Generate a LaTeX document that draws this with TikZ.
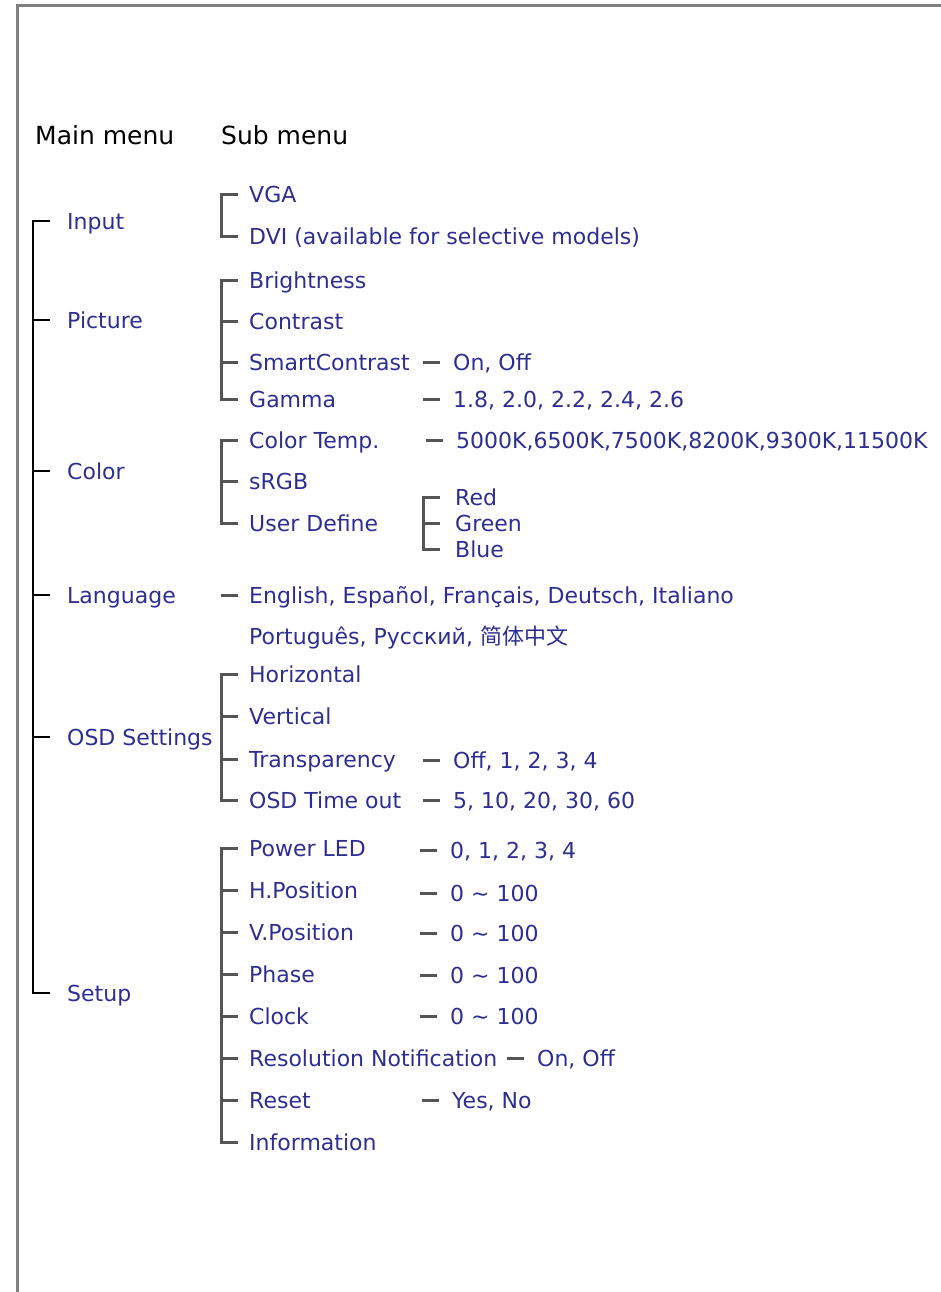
\documentclass[tikz,border=0pt]{standalone}
\usepackage{fontspec}
\setmainfont{DejaVu Sans}
\newfontfamily\cjkfont{Noto Sans CJK SC}
\definecolor{menublue}{RGB}{46,46,146}
\definecolor{framegray}{RGB}{128,128,128}
\definecolor{linegray}{RGB}{85,85,85}

\begin{document}
\begin{tikzpicture}[
    x=1pt, y=-1pt,
    head/.style={anchor=west, inner sep=0pt, text height=18pt, text depth=0pt, font=\fontsize{25}{29}\selectfont, text=black},
    item/.style={anchor=west, inner sep=0pt, text height=16pt, text depth=0pt, font=\fontsize{22}{26}\selectfont, text=menublue},
    mainline/.style={draw=black, line width=2.5pt},
    subline/.style={draw=linegray, line width=3pt},
    tie/.style={draw=linegray, line width=3pt, shorten >=13pt}
]
\useasboundingbox (0,0) rectangle (941,1292);
\draw[framegray, line width=3pt] (17,1292) -- (17,6) -- (941,6);

% headings
\node[head] (mainhead) at (35,136) {Main menu};
\node[head] (subhead) at (221,136) {Sub menu};

% main menu
\node[item] (input) at (67,221) {Input};
\node[item] (picture) at (67,320) {Picture};
\node[item] (color) at (67,471) {Color};
\node[item] (language) at (67,595) {Language};
\node[item] (osd) at (67,737) {OSD Settings};
\node[item] (setup) at (67,993) {Setup};

% sub menus
\node[item] (vga) at (249,195) {VGA};
\node[item] (dvi) at (249,236) {DVI (available for selective models)};

\node[item] (bright) at (249,280) {Brightness};
\node[item] (contrast) at (249,321) {Contrast};
\node[item] (smart) at (249,362) {SmartContrast};
\node[item] (gamma) at (249,399) {Gamma};

\node[item] (ctemp) at (249,440) {Color Temp.};
\node[item] (srgb) at (249,481) {sRGB};
\node[item] (udef) at (249,523) {User Define};

\node[item] (langa) at (249,595) {English, Español, Français, Deutsch, Italiano};
\node[item] (langb) at (249,636) {Português, Русский, {\cjkfont 简体中文}};

\node[item] (horiz) at (249,674) {Horizontal};
\node[item] (vert) at (249,716) {Vertical};
\node[item] (transp) at (249,759) {Transparency};
\node[item] (tout) at (249,800) {OSD Time out};

\node[item] (pled) at (249,848) {Power LED};
\node[item] (hpos) at (249,890) {H.Position};
\node[item] (vpos) at (249,932) {V.Position};
\node[item] (phase) at (249,974) {Phase};
\node[item] (clock) at (249,1016) {Clock};
\node[item] (resn) at (249,1058) {Resolution Notification};
\node[item] (reset) at (249,1100) {Reset};
\node[item] (info) at (249,1142) {Information};

% values
\node[item] (smartval) at (453,362) {On, Off};
\node[item] (gammaval) at (453,399) {1.8, 2.0, 2.2, 2.4, 2.6};
\node[item] (ctempval) at (456,440) {5000K,6500K,7500K,8200K,9300K,11500K};
\node[item] (red) at (455,497) {Red};
\node[item] (green) at (455,523) {Green};
\node[item] (blue) at (455,549) {Blue};
\node[item] (transpval) at (453,760) {Off, 1, 2, 3, 4};
\node[item] (toutval) at (453,800) {5, 10, 20, 30, 60};
\node[item] (pledval) at (450,850) {0, 1, 2, 3, 4};
\node[item] (hposval) at (450,893) {0 \textasciitilde{} 100};
\node[item] (vposval) at (450,933) {0 \textasciitilde{} 100};
\node[item] (phaseval) at (450,975) {0 \textasciitilde{} 100};
\node[item] (clockval) at (450,1016) {0 \textasciitilde{} 100};
\node[item] (resnval) at (537,1058) {On, Off};
\node[item] (resetval) at (452,1100) {Yes, No};

% main tree
\draw[mainline] ([xshift=-17pt]input.west) -- ++(-17,0) |- ([xshift=-17pt]setup.west);
\foreach \n in {picture,color,language,osd}
  \draw[mainline] ([xshift=-17pt]\n.west) -- ++(-17,0);

% sub brackets
\draw[subline] ([xshift=-11pt]vga.west) -- ++(-17,0) |- ([xshift=-11pt]dvi.west);
\draw[subline] ([xshift=-11pt]bright.west) -- ++(-17,0) |- ([xshift=-11pt]gamma.west);
\foreach \n in {contrast,smart}
  \draw[subline] ([xshift=-11pt]\n.west) -- ++(-17,0);
\draw[subline] ([xshift=-11pt]ctemp.west) -- ++(-17,0) |- ([xshift=-11pt]udef.west);
\draw[subline] ([xshift=-11pt]srgb.west) -- ++(-17,0);
\draw[subline] ([xshift=-11pt]langa.west) -- ++(-17,0);
\draw[subline] ([xshift=-11pt]horiz.west) -- ++(-17,0) |- ([xshift=-11pt]tout.west);
\foreach \n in {vert,transp}
  \draw[subline] ([xshift=-11pt]\n.west) -- ++(-17,0);
\draw[subline] ([xshift=-11pt]pled.west) -- ++(-17,0) |- ([xshift=-11pt]info.west);
\foreach \n in {hpos,vpos,phase,clock,resn,reset}
  \draw[subline] ([xshift=-11pt]\n.west) -- ++(-17,0);
\draw[subline] ([xshift=-15pt]red.west) -- ++(-17,0) |- ([xshift=-15pt]blue.west);
\draw[subline] ([xshift=-15pt]green.west) -- ++(-17,0);

% value ties
\foreach \v in {smartval,gammaval,ctempval,transpval,toutval,pledval,hposval,vposval,phaseval,clockval,resnval,resetval}
  \draw[tie] ([xshift=-30pt]\v.west) -- (\v.west);
\end{tikzpicture}
\end{document}
